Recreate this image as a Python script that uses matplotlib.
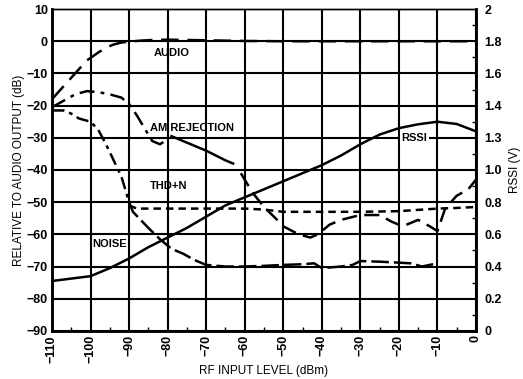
import numpy as np
import matplotlib.pyplot as plt
from matplotlib.ticker import MultipleLocator, FixedLocator

plt.rcParams['font.family'] = ['Liberation Sans', 'DejaVu Sans']

# RF input level (dBm) vs. level relative to audio output (dB)
audio_x = [-110, -107, -104, -101, -98, -96, -94, -92, -90, -87, -84, -80, -70, -60, -50, -40, -30, -20, -10, 0]
audio_y = [-18, -14, -10, -6, -3.5, -2, -1, -0.4, -0.1, 0.2, 0.4, 0.5, 0.3, 0.1, 0, 0, 0, 0, 0, 0]

am_x = [-110, -107, -104, -101, -98, -95, -92, -90, -88, -86, -84, -82, -80,
        -79, -75, -70, -65, -63,
        -61, -58, -55, -52, -50, -46, -43, -41, -38, -35, -30, -25, -22, -19, -15, -12, -10, -8, -5, -2, 0]
am_y = [-20.5, -18.5, -16.5, -15.5, -15.8, -16.5, -17.5, -19.5, -23, -27, -31, -32, -30.5,
        -29.5, -31.5, -34, -37, -38,
        -41, -47, -51.5, -55, -57.5, -60, -61, -60, -57, -55.5, -54, -54, -56, -57.5, -55.5, -57.5, -59, -52, -48, -46, -43]

noise_x = [-110, -107, -105, -103, -100, -98, -96, -94, -92, -91, -90,
           -89, -87, -85, -82, -79, -76, -73, -70, -65, -60, -55, -50, -45, -42, -40, -35, -32, -30, -25, -20, -17, -14, -10]
noise_y = [-21.5, -21.5, -22.5, -24, -25, -27.5, -32, -37, -42, -46, -50,
           -53, -55.5, -58, -61.5, -64.5, -66, -68, -69.5, -70, -70, -69.8, -69.5, -69.3, -69, -70.5, -70, -69.5, -68.3, -68.5, -68.8, -69, -70, -69]

thd_x = [-90, -88, -80, -70, -60, -55, -50, -40, -30, -20, -10, -5, 0]
thd_y = [-51, -52, -52, -52, -52, -52.3, -53, -53, -53, -52.8, -52, -51.8, -51.5]

# RSSI (V) on the right axis
rssi_x = [-110, -100, -95, -90, -85, -80, -75, -70, -65, -60, -55, -50, -45, -40, -35, -30, -25, -20, -15, -10, -5, 0]
rssi_v = [0.31, 0.34, 0.39, 0.45, 0.52, 0.58, 0.64, 0.71, 0.78, 0.83, 0.88, 0.93, 0.98, 1.03, 1.09, 1.16, 1.22, 1.26, 1.284, 1.30, 1.286, 1.24]

x_ticks = [-110, -100, -90, -80, -70, -60, -50, -40, -30, -20, -10, 0]
left_ticks = [10, 0, -10, -20, -30, -40, -50, -60, -70, -80, -90]
right_ticks = [0, 0.2, 0.4, 0.6, 0.8, 1.0, 1.2, 1.4, 1.6, 1.8, 2.0]
right_labels = ['0', '0.2', '0.4', '0.6', '0.8', '1.0', '1.3', '1.4', '1.6', '1.8', '2']

fig = plt.figure(figsize=(5.23, 3.79), dpi=100)
ax = fig.add_axes([0.0994, 0.127, 0.8107, 0.849])
ax2 = ax.twinx()

lw = 1.8
ax.plot(audio_x, audio_y, color='black', lw=lw, dashes=(7, 3.5))

am_x = np.array(am_x)
am_y = np.array(am_y)
s1 = am_x <= -80
s2 = (am_x >= -79) & (am_x <= -63)
s3 = am_x >= -61
ax.plot(am_x[s1], am_y[s1], color='black', lw=lw, dashes=(6, 2.5, 1.5, 2.5))
ax.plot(am_x[s2], am_y[s2], color='black', lw=lw)
ax.plot(am_x[s3], am_y[s3], color='black', lw=lw, dashes=(6, 3))

noise_x = np.array(noise_x)
noise_y = np.array(noise_y)
n1 = noise_x <= -90
n2 = noise_x >= -90
ax.plot(noise_x[n1], noise_y[n1], color='black', lw=lw, dashes=(5, 2, 1.5, 2))
ax.plot(noise_x[n2], noise_y[n2], color='black', lw=lw, dashes=(7, 2))

ax.plot(thd_x, thd_y, color='black', lw=lw, dashes=(3, 2))

ax2.plot(rssi_x, rssi_v, color='black', lw=lw)

ax.set_xlim(-110, 0)
ax.set_ylim(-90, 10)
ax2.set_ylim(0, 2)

ax.xaxis.set_major_locator(FixedLocator(x_ticks))
ax.xaxis.set_minor_locator(MultipleLocator(5))
ax.yaxis.set_major_locator(FixedLocator(left_ticks))
ax2.yaxis.set_major_locator(FixedLocator(right_ticks))
ax2.yaxis.set_minor_locator(MultipleLocator(0.1))
ax2.set_yticklabels(right_labels)

ax.grid(True, which='major', color='black', lw=1.5)
ax.set_axisbelow(True)

ax.tick_params(axis='both', which='major', length=0, labelsize=9, pad=3)
ax.tick_params(axis='x', which='minor', direction='in', length=3, width=1)
ax2.tick_params(axis='y', which='major', length=0, labelsize=9, pad=6)
ax2.tick_params(axis='y', which='minor', direction='in', length=3, width=1)
for lab in ax.get_xticklabels() + ax.get_yticklabels() + ax2.get_yticklabels():
    lab.set_fontweight('bold')
for lab in ax.get_xticklabels():
    lab.set_rotation(90)

for sp in ['left', 'right', 'bottom']:
    ax.spines[sp].set_linewidth(1.8)
    ax2.spines[sp].set_linewidth(1.8)
ax.spines['top'].set_linewidth(1.0)
ax2.spines['top'].set_linewidth(1.0)

ax.set_xlabel('RF INPUT LEVEL (dBm)', fontsize=8.5, labelpad=1)
ax.set_ylabel('RELATIVE TO AUDIO OUTPUT (dB)', fontsize=8.5, labelpad=1)
ax2.set_ylabel('RSSI (V)', fontsize=8.5, labelpad=5)

tkw = dict(fontsize=8, fontweight='bold', color='black')
ax.text(-83.5, -3.5, 'AUDIO', ha='left', va='center', **tkw)
ax.text(-84.5, -27, 'AM REJECTION', ha='left', va='center', **tkw)
ax.text(-84.5, -45, 'THD+N', ha='left', va='center', **tkw)
ax.text(-99.5, -63, 'NOISE', ha='left', va='center', **tkw)
ax.text(-16, -30, 'RSSI', ha='center', va='center',
        bbox=dict(facecolor='white', edgecolor='none', pad=1), **tkw)

fig.savefig('out.png', dpi=100)
